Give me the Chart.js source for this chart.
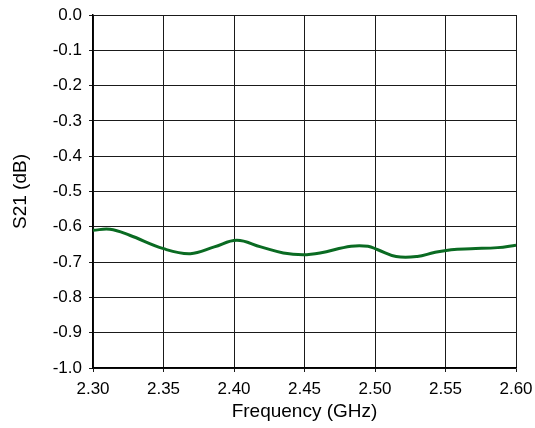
<!DOCTYPE html>
<html>
<head>
<meta charset="utf-8">
<script src="https://cdn.jsdelivr.net/npm/chart.js@4.4.1/dist/chart.umd.min.js"></script>
<style>
  html, body { margin: 0; padding: 0; background: #fff; }
  #wrap { width: 535px; height: 428px; }
</style>
</head>
<body>
<div id="wrap"><canvas id="s21Chart" width="535" height="428"></canvas></div>
<script>
// S21 vs frequency
const freqGHz = [2.300, 2.312, 2.326, 2.350, 2.369, 2.386, 2.402, 2.419, 2.435, 2.449, 2.461, 2.483, 2.495, 2.502, 2.515, 2.530, 2.542, 2.554, 2.568, 2.587, 2.600];
const s21dB = [-0.610, -0.607, -0.624, -0.662, -0.676, -0.657, -0.638, -0.657, -0.674, -0.679, -0.674, -0.655, -0.655, -0.665, -0.684, -0.684, -0.673, -0.665, -0.662, -0.659, -0.652];
const xTicks = [2.30, 2.35, 2.40, 2.45, 2.50, 2.55, 2.60];
const yTicks = [0.0, -0.1, -0.2, -0.3, -0.4, -0.5, -0.6, -0.7, -0.8, -0.9, -1.0];

const fontFamily = '"Liberation Sans", Arial, sans-serif';
Chart.defaults.font.family = fontFamily;
Chart.defaults.color = '#000';

const points = freqGHz.map((f, i) => ({ x: f, y: s21dB[i] }));

new Chart(document.getElementById('s21Chart'), {
    type: 'line',
    data: {
        datasets: [{
            data: points,
            borderColor: '#0a6b22',
            borderWidth: 3,
            pointRadius: 0,
            tension: 0.4,
            fill: false
        }]
    },
    options: {
        responsive: false,
        animation: false,
        layout: { padding: { top: 15, right: 19, left: 0, bottom: 0 } },
        plugins: { legend: { display: false }, tooltip: { enabled: false } },
        scales: {
            x: {
                type: 'linear',
                min: 2.3,
                max: 2.6,
                afterBuildTicks: axis => { axis.ticks = xTicks.map(v => ({ value: v })); },
                afterFit: axis => {
                    axis.height = 60;
                    axis.paddingLeft = 0;
                    axis.paddingRight = 0;
                },
                ticks: {
                    callback: v => v.toFixed(2),
                    font: { size: 17 },
                    padding: 7,
                    maxRotation: 0
                },
                grid: { color: '#1a1a1a', lineWidth: 1, tickLength: 4 },
                border: { color: '#000', width: 1.5 },
                title: {
                    display: true,
                    text: 'Frequency (GHz)',
                    font: { size: 19 },
                    padding: { top: 0, bottom: 5 }
                }
            },
            y: {
                min: -1,
                max: 0,
                afterBuildTicks: axis => { axis.ticks = yTicks.map(v => ({ value: v })); },
                afterFit: axis => {
                    axis.width = 93;
                    axis.paddingTop = 0;
                    axis.paddingBottom = 0;
                },
                ticks: {
                    callback: v => (Math.abs(v) < 1e-9 ? 0 : v).toFixed(1),
                    font: { size: 17 },
                    padding: 7
                },
                grid: { color: '#1a1a1a', lineWidth: 1, tickLength: 4 },
                border: { color: '#000', width: 1.5 },
                title: {
                    display: true,
                    text: 'S21 (dB)',
                    font: { size: 19 },
                    padding: { top: 9, bottom: 0 }
                }
            }
        }
    }
});
</script>
</body>
</html>
